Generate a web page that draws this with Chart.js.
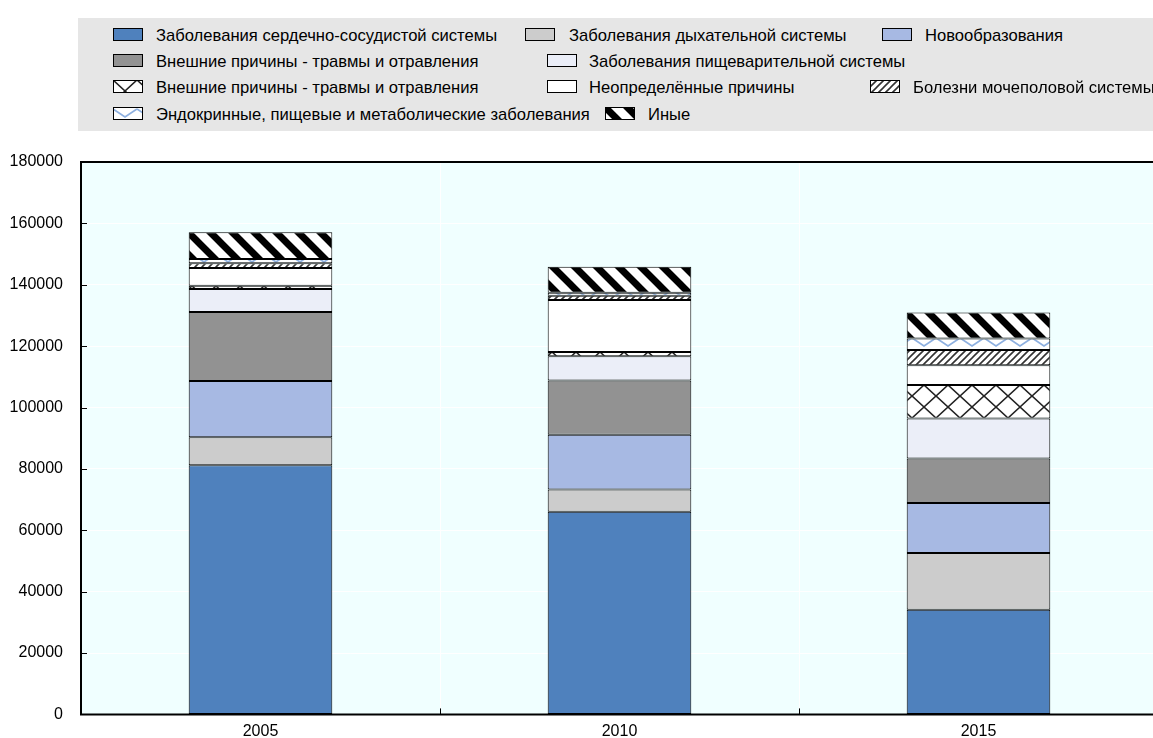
<!DOCTYPE html>
<html>
<head>
<meta charset="utf-8">
<script src="https://cdn.jsdelivr.net/npm/chart.js@4"></script>
<style>
  html, body { margin: 0; padding: 0; background: #fff; overflow: hidden; width: 1153px; height: 738px; }
  #legend { position: absolute; left: 78px; top: 18px; width: 1075px; height: 113px; background: #e6e6e6; }
  .item { position: absolute; font-family: "Liberation Sans", Arial, sans-serif; font-size: 16.6px; color: #000; white-space: nowrap; line-height: 18px; }
  .sw { position: absolute; width: 30px; height: 13px; }
  #wrap { position: absolute; left: 0; top: 0; width: 1160px; height: 742px; }
</style>
</head>
<body>
<div id="wrap"><canvas id="c"></canvas></div>
<div id="legend"></div>
<script>
// ---- data ----
const categories = ["2005", "2010", "2015"];
const seriesNames = [
  "Заболевания сердечно-сосудистой системы",
  "Заболевания дыхательной системы",
  "Новообразования",
  "Внешние причины - травмы и отравления",
  "Заболевания пищеварительной системы",
  "Внешние причины - травмы и отравления",
  "Неопределённые причины",
  "Болезни мочеполовой системы",
  "Эндокринные, пищевые и метаболические заболевания",
  "Иные"
];
const cardio      = [81200, 66000, 34100];
const respiratory = [9100, 7300, 18500];
const neoplasms   = [18300, 17800, 16300];
const external    = [22500, 17700, 14500];
const digestive   = [7500, 7900, 13000];
const external2   = [1100, 1400, 10900];
const undetermined= [5800, 16900, 6500];
const urogenital  = [1500, 1400, 4900];
const endocrine   = [1400, 1000, 3800];
const others      = [8700, 8500, 8500];
const yTicks = [0, 20000, 40000, 60000, 80000, 100000, 120000, 140000, 160000, 180000];

const seriesValues = [cardio, respiratory, neoplasms, external, digestive, external2, undetermined, urogenital, endocrine, others];

// ---- styles ----
function makeTile(w, h, draw) {
  const c = document.createElement('canvas');
  c.width = w; c.height = h;
  const g = c.getContext('2d');
  g.fillStyle = '#fff'; g.fillRect(0, 0, w, h);
  draw(g, w, h);
  return c;
}
const tiles = {
  cross: makeTile(24, 22, (g, w, h) => {
    g.strokeStyle = '#222'; g.lineWidth = 1.6;
    g.beginPath();
    g.moveTo(-w, -h); g.lineTo(2*w, 2*h);
    g.moveTo(2*w, -h); g.lineTo(-w, 2*h);
    g.moveTo(0, -h); g.lineTo(2*w, h); g.moveTo(-w, 0); g.lineTo(w, 2*h);
    g.moveTo(w, -h); g.lineTo(-w, h); g.moveTo(2*w, 0); g.lineTo(0, 2*h);
    g.stroke();
  }),
  hatch: makeTile(7, 7, (g, w, h) => {
    g.strokeStyle = '#333'; g.lineWidth = 1.6;
    g.beginPath();
    g.moveTo(-1, h+1); g.lineTo(w+1, -1);
    g.moveTo(-1, 1); g.lineTo(1, -1);
    g.moveTo(w-1, h+1); g.lineTo(w+1, h-1);
    g.stroke();
  }),
  stripes: makeTile(22, 22, (g, w, h) => {
    g.strokeStyle = '#000'; g.lineWidth = 7;
    g.beginPath();
    g.moveTo(-w, -h); g.lineTo(2*w, 2*h);
    g.moveTo(-w, 0); g.lineTo(w, 2*h);
    g.moveTo(0, -h); g.lineTo(2*w, h);
    g.stroke();
  }),
  zigzag: makeTile(24, 12, (g, w, h) => {
    g.strokeStyle = '#8eb0e0'; g.lineWidth = 1.8;
    g.beginPath();
    g.moveTo(0, 2); g.lineTo(12, 10); g.lineTo(24, 2);
    g.stroke();
  })
};

const ctxMain = document.getElementById('c').getContext('2d');
function pat(name) { return ctxMain.createPattern(tiles[name], 'repeat'); }

const fills = [
  '#4f81bd', '#cccccc', '#a7b9e3', '#929292', '#ebeef8',
  pat('cross'), '#ffffff', pat('hatch'), pat('zigzag'), pat('stripes')
];
const swatchFill = ['#4f81bd', '#cccccc', '#a7b9e3', '#929292', '#ebeef8', 'cross', '#ffffff', 'hatch', 'zigzag', 'stripes'];

// legend layout: [swatchX, textX, rowY]
const legendPos = [
  [113, 156, 35], [525, 569, 35], [882, 925, 35],
  [113, 156, 61], [547, 589, 61],
  [113, 156, 87], [547, 589, 87], [870, 913, 87],
  [113, 156, 114], [605, 648, 114]
];

// ---- legend (HTML) ----
const legend = document.getElementById('legend');
seriesNames.forEach((name, i) => {
  const [sx, tx, ry] = legendPos[i];
  const sw = document.createElement('canvas');
  sw.className = 'sw'; sw.width = 30; sw.height = 13;
  sw.style.left = (sx - 78) + 'px'; sw.style.top = (ry - 7 - 18) + 'px';
  const g = sw.getContext('2d');
  const f = swatchFill[i];
  g.fillStyle = tiles[f] ? g.createPattern(tiles[f], 'repeat') : f;
  g.fillRect(0, 0, 30, 13);
  g.strokeStyle = '#000'; g.lineWidth = 1;
  g.strokeRect(0.5, 0.5, 29, 12);
  legend.appendChild(sw);
  const t = document.createElement('div');
  t.className = 'item'; t.textContent = name;
  t.style.left = (tx - 78) + 'px'; t.style.top = (ry - 8 - 18) + 'px';
  legend.appendChild(t);
});

// ---- chart ----
const frame = {
  id: 'frame',
  beforeDraw(chart) {
    const a = chart.chartArea, g = chart.ctx;
    g.save(); g.fillStyle = '#f0ffff';
    g.fillRect(a.left, a.top, a.right - a.left, a.bottom - a.top);
    g.restore();
  },
  afterDraw(chart) {
    const a = chart.chartArea, g = chart.ctx;
    const ys = chart.scales.y, xs = chart.scales.x;
    g.save();
    g.strokeStyle = '#000'; g.lineWidth = 1;
    g.beginPath();
    yTicks.forEach(v => { const y = Math.round(ys.getPixelForValue(v)) + 0.5; g.moveTo(a.left, y); g.lineTo(a.left + 6, y); });
    for (let i = 1; i < categories.length; i++) {
      const x = Math.round((xs.getPixelForValue(i - 1) + xs.getPixelForValue(i)) / 2) + 0.5;
      g.moveTo(x, a.bottom); g.lineTo(x, a.bottom - 6);
    }
    g.stroke();
    g.lineWidth = 2;
    g.beginPath();
    g.moveTo(a.right + 5, a.top); g.lineTo(a.left, a.top); g.lineTo(a.left, a.bottom); g.lineTo(a.right + 5, a.bottom);
    g.stroke();
    g.restore();
  }
};

new Chart(ctxMain, {
  type: 'bar',
  data: {
    labels: categories,
    datasets: seriesNames.map((n, i) => ({
      label: n,
      data: seriesValues[i],
      backgroundColor: fills[i],
      borderColor: '#000',
      borderWidth: 1,
      borderSkipped: false,
      barPercentage: 0.4,
      categoryPercentage: 1.0
    }))
  },
  options: {
    responsive: true,
    maintainAspectRatio: false,
    animation: false,
    events: [],
    layout: { padding: { top: 162, right: 2, left: 0, bottom: 0 } },
    plugins: { legend: { display: false }, tooltip: { enabled: false } },
    scales: {
      x: {
        stacked: true,
        offset: true,
        border: { display: false },
        grid: { color: '#ffffff', lineWidth: 1, offset: true, drawTicks: false },
        ticks: { color: '#000', font: { family: 'Liberation Sans, Arial', size: 16 }, padding: 8 },
        afterFit(s) { s.height = 24; }
      },
      y: {
        stacked: true,
        min: 0, max: 180000,
        border: { display: false },
        grid: { color: '#ffffff', lineWidth: 1, drawTicks: false },
        ticks: { stepSize: 20000, color: '#000', font: { family: 'Liberation Sans, Arial', size: 16 }, padding: 18,
          callback: (v) => String(v) },
        afterFit(s) { s.width = 81; }
      }
    }
  },
  plugins: [frame]
});
</script>
</body>
</html>
